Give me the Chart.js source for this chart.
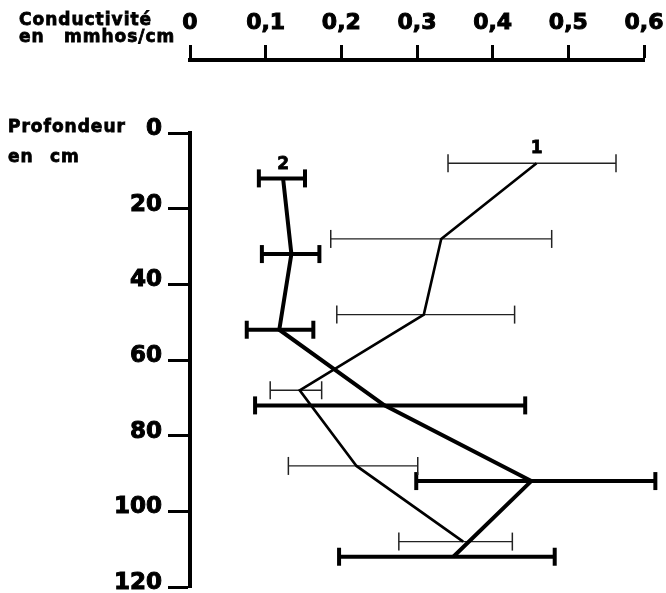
<!DOCTYPE html>
<html>
<head>
<meta charset="utf-8">
<script src="https://cdn.jsdelivr.net/npm/chart.js@4.4.1/dist/chart.umd.min.js"></script>
<style>
html, body { margin: 0; padding: 0; background: #fff; }
</style>
</head>
<body>
<canvas id="canvas1" width="666" height="593"></canvas>
<script>
// profil 1 (trait fin)
var depth1 = [8, 28, 48, 68, 88, 108];
var cond1 = [0.458, 0.332, 0.309, 0.145, 0.220, 0.361];
var low1 = [0.341, 0.186, 0.194, 0.106, 0.130, 0.276];
var high1 = [0.563, 0.478, 0.429, 0.174, 0.301, 0.426];

// profil 2 (trait gras)
var depth2 = [12, 32, 52, 72, 92, 112];
var cond2 = [0.123, 0.134, 0.118, 0.257, 0.451, 0.348];
var low2 = [0.091, 0.095, 0.075, 0.086, 0.299, 0.197];
var high2 = [0.152, 0.171, 0.163, 0.443, 0.615, 0.482];

var xTicks = [0, 0.1, 0.2, 0.3, 0.4, 0.5, 0.6];
var yTicks = [0, 20, 40, 60, 80, 100, 120];

function errorBars(depth, low, high, width, color){
    var out = [];
    for(var i=0; i < depth.length; i++){
        out.push({
            data: [{x: low[i], y: depth[i]}, {x: high[i], y: depth[i]}],
            showLine: true,
            borderColor: color,
            borderWidth: width,
            pointStyle: 'line',
            pointRotation: 90,
            pointRadius: 9,
            pointBorderWidth: width < 2 ? 1.5 : 4,
            pointBorderColor: color,
            clip: false,
            xAxisID: 'x',
            yAxisID: 'y'
        });
    }
    return out;
}

function profile(depth, cond, width){
    var pts = [];
    for(var i=0; i < depth.length; i++){
        pts.push({x: cond[i], y: depth[i]});
    }
    return {
        data: pts,
        showLine: true,
        borderColor: '#000',
        borderWidth: width,
        borderJoinStyle: 'miter',
        pointRadius: 0,
        clip: false,
        xAxisID: 'x',
        yAxisID: 'y'
    };
}

var datasets = [profile(depth1, cond1, 2.6), profile(depth2, cond2, 4)]
    .concat(errorBars(depth1, low1, high1, 1.3, '#222'))
    .concat(errorBars(depth2, low2, high2, 4, '#000'));

// texte plein + contour pour imiter le gras de l'original
function heavyText(ctx, s, x, y){
    ctx.fillText(s, x, y);
    ctx.strokeText(s, x, y);
}

var texts = {
    id: 'texts',
    afterDraw: function(chart){
        var ctx = chart.ctx;
        var sx = chart.scales.x, sy = chart.scales.y;
        ctx.save();
        ctx.fillStyle = '#000';
        ctx.strokeStyle = '#000';
        ctx.lineWidth = 0.8;
        ctx.textBaseline = 'alphabetic';
        ctx.font = 'bold 17px "DejaVu Sans"';
        ctx.letterSpacing = '1px';
        heavyText(ctx, 'Conductivité', 19, 25);
        heavyText(ctx, 'en', 19, 42);
        heavyText(ctx, 'mmhos/cm', 64, 42);
        heavyText(ctx, 'Profondeur', 8, 132);
        heavyText(ctx, 'en', 8, 162);
        heavyText(ctx, 'cm', 50, 162);
        ctx.letterSpacing = '0px';
        ctx.font = 'bold 17px "DejaVu Sans"';
        ctx.textAlign = 'center';
        heavyText(ctx, '1', sx.getPixelForValue(cond1[0]), sy.getPixelForValue(depth1[0]) - 10);
        heavyText(ctx, '2', sx.getPixelForValue(cond2[0]), sy.getPixelForValue(depth2[0]) - 9);
        ctx.restore();
    }
};

function noOverflow(s){
    s.paddingLeft = 0;
    s.paddingRight = 0;
    s.paddingTop = 0;
    s.paddingBottom = 0;
}

var ctx = document.getElementById('canvas1');
var chart = new Chart(ctx, {
    type: 'scatter',
    data: { datasets: datasets },
    options: {
        responsive: false,
        animation: false,
        events: [],
        layout: { autoPadding: false, padding: { left: 0, right: 22, top: 0, bottom: 6 } },
        plugins: { legend: { display: false }, tooltip: { enabled: false } },
        scales: {
            x: {
                type: 'linear',
                position: 'top',
                weight: 10,
                min: 0,
                max: 0.6,
                afterBuildTicks: function(s){ s.ticks = xTicks.map(function(v){ return {value: v}; }); },
                afterFit: function(s){ s.height = 60; noOverflow(s); },
                grid: { drawOnChartArea: false, tickLength: 15, tickWidth: 3, tickColor: '#000', color: '#000' },
                border: { display: true, color: '#000', width: 4 },
                ticks: {
                    color: '#000',
                    textStrokeColor: '#000',
                    textStrokeWidth: 1,
                    padding: 9,
                    maxRotation: 0,
                    autoSkip: false,
                    font: { family: 'DejaVu Sans', size: 22, weight: 'bold' },
                    callback: function(v){ return v === 0 ? '0' : v.toFixed(1).replace('.', ','); }
                }
            },
            gap: {
                type: 'linear',
                axis: 'x',
                position: 'top',
                weight: 0,
                grid: { display: false },
                border: { display: false },
                ticks: { display: false },
                afterFit: function(s){ s.height = 73; noOverflow(s); }
            },
            y: {
                type: 'linear',
                position: 'left',
                reverse: true,
                min: 0,
                max: 120,
                afterBuildTicks: function(s){ s.ticks = yTicks.map(function(v){ return {value: v}; }); },
                afterFit: function(s){ s.width = 190; noOverflow(s); },
                grid: { drawOnChartArea: false, tickLength: 22, tickWidth: 3, tickColor: '#000', color: '#000' },
                border: { display: true, color: '#000', width: 4 },
                ticks: {
                    color: '#000',
                    textStrokeColor: '#000',
                    textStrokeWidth: 1,
                    padding: 6,
                    labelOffset: -4,
                    font: { family: 'DejaVu Sans', size: 23, weight: 'bold' }
                }
            }
        }
    },
    plugins: [texts]
});
</script>
</body>
</html>
